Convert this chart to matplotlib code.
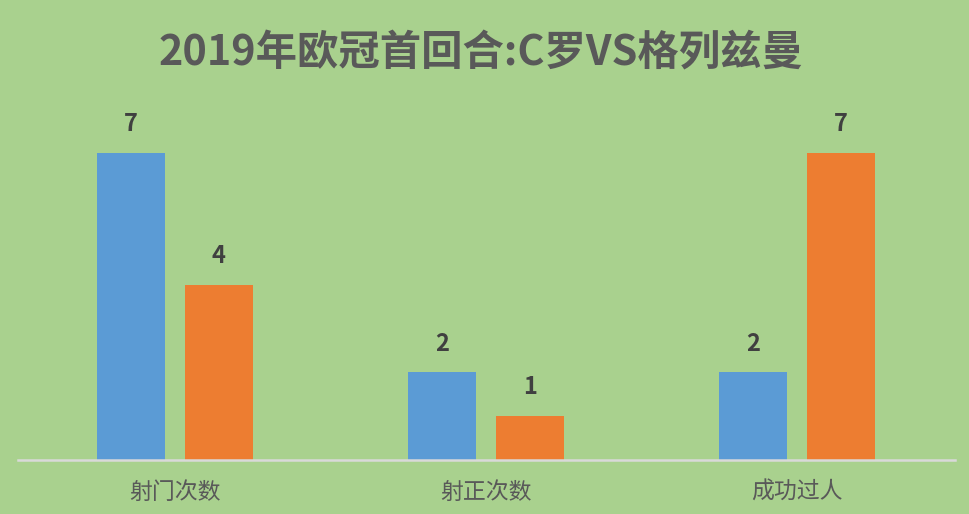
import matplotlib
matplotlib.use('Agg')
import matplotlib.pyplot as plt
import numpy as np

plt.rcParams['font.family'] = ['Noto Sans CJK SC', 'DejaVu Sans']

categories = ['射门次数', '射正次数', '成功过人']
ronaldo = [7, 2, 2]
griezmann = [4, 1, 7]
title = '2019年欧冠首回合:C罗VS格列兹曼'

bg = '#A9D18E'
fig = plt.figure(figsize=(9.7, 5.14), dpi=100, facecolor=bg)
ax = fig.add_axes([18 / 970, 54 / 514, 937 / 970, 351 / 514])
ax.set_facecolor(bg)

x = np.arange(len(categories))
w = 0.219
off = 0.141
b1 = ax.bar(x - off, ronaldo, width=w, color='#5B9BD5')
b2 = ax.bar(x + off, griezmann, width=w, color='#ED7D31')

for bars, vals in ((b1, ronaldo), (b2, griezmann)):
    for r, v in zip(bars, vals):
        ax.text(r.get_x() + r.get_width() / 2, v + 0.38, str(v), ha='center', va='bottom',
                fontsize=17, fontweight='bold', color='#404040')

ax.set_xlim(-0.505, 2.508)
ax.set_ylim(0, 8)
ax.set_xticks(x)
ax.set_xticklabels(categories, fontsize=16.5, color='#595959')
ax.tick_params(axis='x', length=0, pad=15)
ax.set_yticks([])
for s in ('top', 'right', 'left'):
    ax.spines[s].set_visible(False)
ax.spines['bottom'].set_color('#D9D9D9')
ax.spines['bottom'].set_linewidth(1.8)

fig.text(0.496, 1 - 53 / 514, title, ha='center', va='center', fontsize=29.8,
         fontweight='bold', color='#595959')

fig.savefig('out.png', dpi=100, facecolor=bg)
